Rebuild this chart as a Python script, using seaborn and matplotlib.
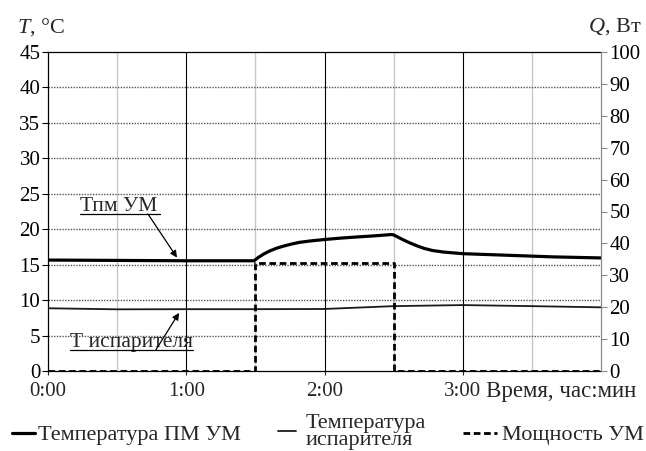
import matplotlib
matplotlib.use("Agg")
import matplotlib.pyplot as plt
from matplotlib.lines import Line2D
from matplotlib.ticker import MultipleLocator, FixedLocator
import seaborn as sns
import pandas as pd

# Time axis in hours
hours_ticks = [0, 1, 2, 3]
hour_labels = ["0:00", "1:00", "2:00", "3:00"]

# Power amplifier body temperature, °C
t_pm = [0.0, 0.5, 1.0, 1.49, 1.52, 1.56, 1.60, 1.65, 1.70, 1.76, 1.82, 1.90,
        2.00, 2.12, 2.23, 2.35, 2.485, 2.50, 2.53, 2.57, 2.62, 2.67, 2.72,
        2.78, 2.86, 3.00, 3.29, 3.65, 4.00]
temp_pm = [15.65, 15.6, 15.55, 15.55, 16.0, 16.5, 16.9, 17.3, 17.6, 17.9, 18.15, 18.35,
           18.55, 18.75, 18.9, 19.05, 19.25, 19.2, 18.9, 18.5, 18.05, 17.65, 17.3,
           17.0, 16.78, 16.55, 16.35, 16.1, 15.95]

# Evaporator temperature, °C
t_evap = [0.0, 0.5, 1.0, 1.5, 2.0, 2.5, 3.0, 3.5, 4.0]
temp_evap = [8.85, 8.7, 8.72, 8.72, 8.75, 9.15, 9.3, 9.15, 8.98]

# Amplifier power, W (step changes)
t_power = [0.0, 1.5, 2.5, 4.0]
power = [0.0, 33.8, 0.0, 0.0]

sns.set_style("ticks")
plt.rcParams["font.family"] = ["Liberation Serif", "DejaVu Serif"]
plt.rcParams["mathtext.fontset"] = "custom"
plt.rcParams["mathtext.rm"] = "Liberation Serif"
plt.rcParams["mathtext.it"] = "Liberation Serif:italic"

W, H = 646, 451
fig = plt.figure(figsize=(W / 100, H / 100), dpi=100)
ax = fig.add_axes([48 / W, (H - 371) / H, (601 - 48) / W, (371 - 52) / H])
ax2 = ax.twinx()

df_pm = pd.DataFrame({"t": t_pm, "T": temp_pm})
df_ev = pd.DataFrame({"t": t_evap, "T": temp_evap})
df_q = pd.DataFrame({"t": t_power, "Q": power})

sns.lineplot(data=df_pm, x="t", y="T", ax=ax, color="black", lw=2.3, zorder=5)
sns.lineplot(data=df_ev, x="t", y="T", ax=ax, color="#1a1a1a", lw=1.3, zorder=5)
sns.lineplot(data=df_q, x="t", y="Q", ax=ax2, color="black", lw=2.0,
             drawstyle="steps-post", dashes=False, linestyle=(0, (2.4, 1.3)), zorder=5)

ax.set_xlim(0, 4)
ax.set_ylim(0, 45)
ax2.set_ylim(0, 100)
ax.set_xlabel("")
ax.set_ylabel("")
ax2.set_ylabel("")

ax.xaxis.set_major_locator(FixedLocator(hours_ticks))
ax.set_xticklabels(hour_labels)
ax.xaxis.set_minor_locator(FixedLocator([0.5, 1.5, 2.5, 3.5]))
ax.yaxis.set_major_locator(MultipleLocator(5))
ax2.yaxis.set_major_locator(MultipleLocator(10))

# grid
ax.grid(False)
for y in range(5, 45, 5):
    ax.axhline(y, color="#555555", lw=1.0, ls=(0, (1, 1)), zorder=1)
for x in [1, 2, 3]:
    ax.axvline(x, color="black", lw=0.8, zorder=1)
for x in [0.5, 1.5, 2.5, 3.5]:
    ax.axvline(x, color="#c8c8c8", lw=1.0, zorder=0.5)

ax.tick_params(axis="y", direction="out", length=4, width=0.8, pad=1.5,
               labelsize=15, colors="black")
ax.tick_params(axis="x", which="major", direction="out", length=3, width=0.8,
               pad=5, labelsize=15)
ax.tick_params(axis="x", which="minor", length=0)
ax2.tick_params(axis="y", direction="out", length=4, width=0.8, pad=2,
                labelsize=15, color="#888888", labelcolor="black")

for s in ["top", "left", "bottom"]:
    ax.spines[s].set_visible(True)
    ax.spines[s].set_color("black")
    ax.spines[s].set_linewidth(0.9)
ax2.spines["right"].set_visible(True)
ax2.spines["right"].set_color("#888888")
ax2.spines["right"].set_linewidth(0.9)
for s in ["top", "left", "bottom"]:
    ax2.spines[s].set_visible(False)
ax.spines["right"].set_visible(False)

# axis titles
fig.text(17 / W, 1 - 27 / H, r"$T$, °C", fontsize=16, ha="left", va="center")
fig.text(641 / W, 1 - 27 / H, r"$Q$, Вт", fontsize=16, ha="right", va="center")
fig.text(486 / W, 1 - 392 / H, "Время, час:мин", fontsize=16.5, ha="left", va="center")

# callouts
ax.text(0.231, 22.55, "Тпм УМ", fontsize=15.5, ha="left", va="baseline")
ax.plot([0.231, 0.81], [22.15, 22.15], color="black", lw=0.9, zorder=6)
ax.annotate("", xy=(0.933, 16.0), xytext=(0.723, 22.15),
            arrowprops=dict(arrowstyle="-|>", lw=0.9, color="black",
                            mutation_scale=10, shrinkA=0, shrinkB=0), zorder=6)

ax.text(0.159, 3.45, "Т испарителя", fontsize=15.5, ha="left", va="baseline", zorder=6)
ax.plot([0.159, 1.049], [3.0, 3.0], color="black", lw=0.9, zorder=6)
ax.annotate("", xy=(0.948, 8.2), xytext=(0.781, 3.0),
            arrowprops=dict(arrowstyle="-|>", lw=0.9, color="black",
                            mutation_scale=10, shrinkA=0, shrinkB=0), zorder=6)

# legend entries
leg_font = 16
entries = [
    (Line2D([], [], color="black", lw=2.3), "Температура ПМ УМ", 12, 1.05, 0.14, 435),
    (Line2D([], [], color="#1a1a1a", lw=1.3), "Температура\nиспарителя", 278, 0.8, 0.45, 432),
    (Line2D([], [], color="black", lw=2.0, ls=(0, (2.4, 1.3))), "Мощность УМ", 463, 1.55, 0.2, 435),
]
for handle, label, x0, hl, htp, yc in entries:
    leg = fig.legend([handle], [label], loc="center left",
                     bbox_to_anchor=(x0 / W, 1 - yc / H), frameon=False,
                     fontsize=leg_font, handlelength=hl, handletextpad=htp,
                     borderpad=0, borderaxespad=0)
    for t in leg.get_texts():
        t.set_linespacing(0.8)

fig.savefig("out.png", dpi=100)
